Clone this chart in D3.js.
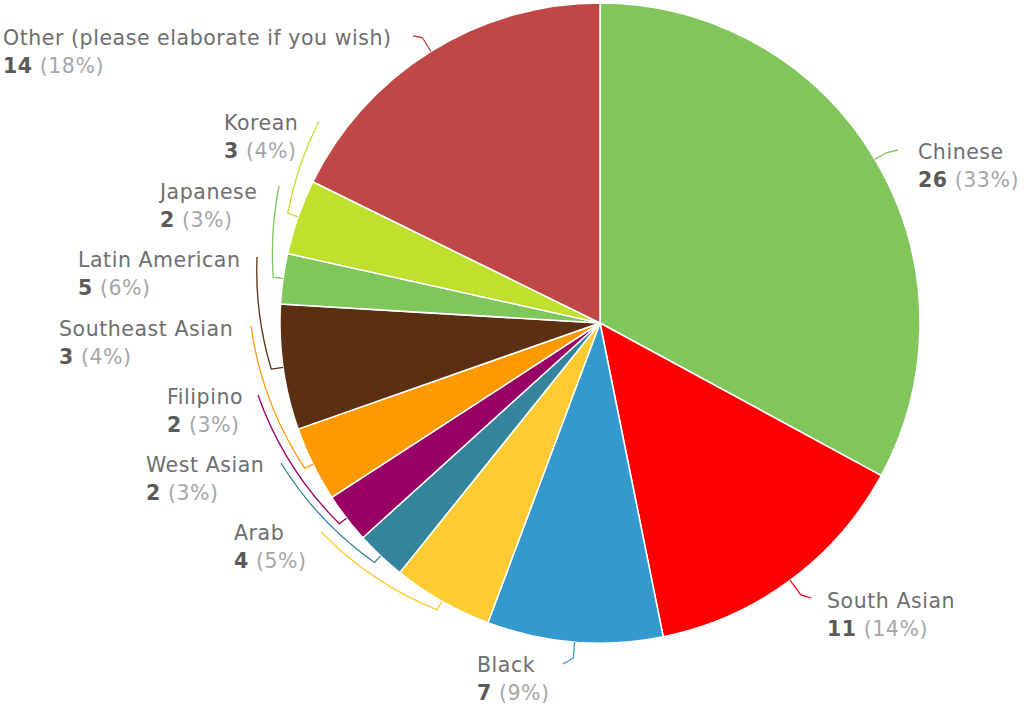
<!DOCTYPE html>
<html>
<head>
<meta charset="utf-8">
<script src="https://cdn.jsdelivr.net/npm/d3@7"></script>
<style>
  html, body { margin: 0; padding: 0; background: #ffffff; }
  svg { display: block; }
  text { font-family: "DejaVu Sans", Verdana, sans-serif; font-size: 20.5px; letter-spacing: 0.55px; }
</style>
</head>
<body>
<svg id="chart" width="1024" height="707"></svg>
<script>
// ---- data ----
const categories = ["Chinese", "South Asian", "Black", "Arab", "West Asian", "Filipino",
  "Southeast Asian", "Latin American", "Japanese", "Korean", "Other (please elaborate if you wish)"];
const values = [26, 11, 7, 4, 2, 2, 3, 5, 2, 3, 14];
const colors = ["#82c55b", "#ff0000", "#3699cd", "#ffcb33", "#33849c", "#990066",
  "#ff9900", "#5a2f12", "#7fc65b", "#c0e02e", "#bf4846"];

// ---- layout (label block left x, first-line centre y, leader end near label) ----
const labelLayout = [
  { x: 918, y: 152, ex: 898, ey: 150 },
  { x: 827, y: 601, ex: 811, ey: 598 },
  { x: 477, y: 665, ex: 563, ey: 664 },
  { x: 234, y: 533, ex: 321, ey: 532 },
  { x: 146, y: 465, ex: 281, ey: 463 },
  { x: 167, y: 397, ex: 258, ey: 395 },
  { x: 59,  y: 329, ex: 251, ey: 326 },
  { x: 78,  y: 260, ex: 257, ey: 257 },
  { x: 160, y: 192, ex: 279, ey: 186 },
  { x: 224, y: 123, ex: 319, ey: 121 },
  { x: 3,   y: 38,  ex: 413, ey: 36 }
];
const leaderOut = [12, 18, 16, 10, 9, 9, 9, 12, 10, 11, 16];

const cx = 600, cy = 323, R = 320;
const total = d3.sum(values);
const data = categories.map((c, i) => ({ name: c, value: values[i], color: colors[i], lay: labelLayout[i], out: leaderOut[i] }));

const svg = d3.select("#chart");
const g = svg.append("g").attr("transform", `translate(${cx},${cy})`);

const pie = d3.pie().value(d => d.value).sort(null).startAngle(0).endAngle(2 * Math.PI);
const arc = d3.arc().innerRadius(0).outerRadius(R);
const arcs = pie(data);

g.selectAll("path.slice").data(arcs).enter().append("path")
  .attr("class", "slice")
  .attr("d", arc)
  .attr("fill", d => d.data.color)
  .attr("stroke", "#ffffff")
  .attr("stroke-width", 1.5)
  .attr("stroke-linejoin", "round");

// leader lines
function polar(r, a) { return [r * Math.sin(a), -r * Math.cos(a)]; }
g.selectAll("path.leader").data(arcs).enter().append("path")
  .attr("class", "leader")
  .attr("fill", "none")
  .attr("stroke", d => d.data.color)
  .attr("stroke-width", 1.3)
  .attr("stroke-linejoin", "round")
  .attr("d", d => {
    const a = (d.startAngle + d.endAngle) / 2;
    const E = polar(R, a);
    const rh = R + d.data.out;
    const H = polar(rh, a);
    const L = [d.data.lay.ex - cx, d.data.lay.ey - cy];
    const rl = Math.hypot(L[0], L[1]);
    let al = Math.atan2(L[0], -L[1]);
    if (al < 0) al += 2 * Math.PI;
    let da = al - a;
    if (da > Math.PI) da -= 2 * Math.PI;
    if (da < -Math.PI) da += 2 * Math.PI;
    const am = a + da / 2;
    const rc = ((rh + rl) / 2) / Math.cos(da / 2);
    const C = polar(rc, am);
    return `M${E[0]},${E[1]}L${H[0]},${H[1]}Q${C[0]},${C[1]} ${L[0]},${L[1]}`;
  });

// labels
const labels = svg.selectAll("g.label").data(data).enter().append("g").attr("class", "label");
labels.append("text")
  .attr("x", d => d.lay.x)
  .attr("y", d => d.lay.y + 7)
  .attr("fill", "#6e6e6e")
  .text(d => d.name);
const second = labels.append("text")
  .attr("x", d => d.lay.x)
  .attr("y", d => d.lay.y + 35);
second.append("tspan")
  .attr("font-weight", "bold")
  .attr("fill", "#5a5a5a")
  .text(d => d.value);
second.append("tspan")
  .attr("fill", "#a6a6a6")
  .text(d => " (" + Math.round(d.value / total * 100) + "%)");
</script>
</body>
</html>
